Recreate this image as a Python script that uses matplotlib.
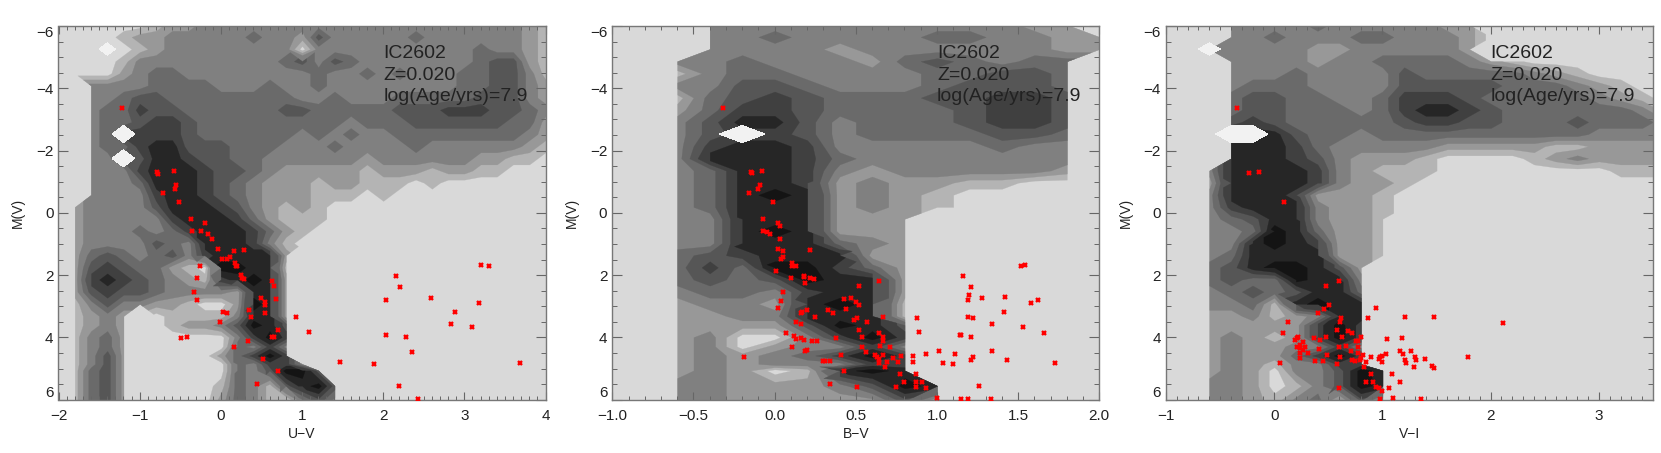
import numpy as np
import matplotlib
matplotlib.use("Agg")
import matplotlib.pyplot as plt
from matplotlib.ticker import MultipleLocator

plt.rcParams["font.family"] = ["Liberation Sans", "DejaVu Sans"]

# ------------------------------------------------------------
# density maps
# each digit is a grey band, '.' no data, 'w'/'v' big and small white holes
# ------------------------------------------------------------
MAG_GRID = [-6.04, -5.65, -5.26, -4.87, -4.48, -4.09, -3.70, -3.31, -2.92, -2.53, -2.14,
            -1.75, -1.36, -0.97, -0.58, -0.19, 0.19, 0.58, 0.97, 1.36, 1.75, 2.14, 2.53,
            2.92, 3.31, 3.60, 3.99, 4.29, 4.58, 4.85, 5.06, 5.55, 6.04]

UV_GRID = [-2.0 + 0.2 * i for i in range(31)]
BV_GRID = [-1.0 + 0.2 * i for i in range(16)]
VI_GRID = [-1.0 + 0.2 * i for i in range(24)]

UV_ROWS = [
    "00000 01223 33333 33333 33333 33332 1",
    "00001 22333 33433 25333 33433 33332 1",
    "000v0 12333 33333 03333 33333 34332 1",
    "00001 33333 33334 53543 33333 34552 1",
    "00002 34433 33333 34334 34333 44553 1",
    "..333 34444 33343 34333 33333 44553 2",
    "..334 55444 44444 33433 34444 45553 2",
    "..344 65544 44445 54444 45556 66554 3",
    "..344 56654 44444 44434 44555 55544 2",
    "..34w 66654 44444 34343 34444 44443 2",
    "..344 67755 54443 33433 33433 33332 1",
    "..33w 57765 54433 33332 33333 32211 0",
    "..333 67776 55432 22221 22212 21100 0",
    "..333 47776 54322 21221 11010 00000 0",
    "..333 36776 54322 21110 10000 00000 0",
    ".2333 35777 65321 21000 00000 00000 0",
    ".2333 33677 76421 11000 00000 00000 0",
    ".2333 43467 77642 10000 00000 00000 0",
    ".2333 35437 77631 00000 00000 00000 0",
    ".2454 34536 77772 .....",
    ".2565 44210 88771 .....",
    ".2676 54321 67872 .....",
    ".2565 54333 32772 .....",
    ".1353 32210 02872 .....",
    ".1232 .0111 13772 .....",
    ".1232 .0122 35875 .....",
    ".1342 .0000 03686 .....",
    ".1342 .0000 04363 .....",
    ".1352 .0000 24686 .....",
    ".1352 .0000 04366 3....",
    ".1452 .0000 04358 85...",
    ".1452 .0000 14315 785..",
    ".1452 .0000 24310 353..",
]

BV_ROWS = [
    "...3333333333 22.",
    "...3343333443322.",
    "...3333233333322.",
    "..3343332454344.",
    "..1344333344554.",
    "..3355433345554.",
    "..1456544455665.",
    "..2466544445665.",
    "..3577534445665.",
    "..35w6534444554.",
    "..3677633333433.",
    "..3777643333333.",
    "..3477632333332.",
    "..3477623221100.",
    "..3478723210000.",
    "..3477723210000.",
    "..33777222......",
    "..33787222......",
    "..33777432......",
    "..45677722......",
    "..46488642......",
    "..45458772......",
    "..34436772......",
    "..23327871......",
    "..22337771......",
    "..22225875......",
    "..23003686......",
    "..23023363......",
    "..23234686......",
    "..23233366......",
    "..23201787......",
    "..332223587.....",
    "..332222251.....",
]

VI_ROWS = [
    "...33 33433 33322 ..... ....",
    "...33 43334 43332 0.... ....",
    "..v33 33223 33332 ..... ....",
    "...33 33233 44443 21000 0000",
    "...33 34333 35444 44321 0000",
    "...34 44333 35555 54443 2100",
    "...45 54433 46665 44444 3210",
    "...45 54443 46776 54444 4431",
    "...56 54444 45665 54445 4443",
    "...ww 75443 44444 44444 3333",
    "...77 76433 33322 22211 2222",
    "...77 76532 22100 00123 2222",
    "..377 77632 11100 00000 0111",
    "..277 77632 21000 00000 0000",
    "..377 76222 10000 00000 0000",
    "..367 77322 10000 00000 0000",
    "..345 77322 1.... ..... ....",
    "..334 87422 1.... ..... ....",
    "..337 87622 1.... ..... ....",
    "..347 77722 1.... ..... ....",
    "..457 88752 ..... ..... ....",
    "..454 48773 ..... ..... ....",
    "..345 45774 ..... ..... ....",
    "..334 17877 ..... ..... ....",
    "..223 12377 ..... ..... ....",
    "..222 22686 ..... ..... ....",
    "..232 12686 ..... ..... ....",
    "..232 23363 ..... ..... ....",
    "..232 24686 ..... ..... ....",
    "..232 13366 ..... ..... ....",
    "..232 03358 7.... ..... ....",
    "..332 01358 7.... ..... ....",
    "..332 13415 1.... ..... ....",
]

# ------------------------------------------------------------
# stars
# ------------------------------------------------------------
UV_X = [-1.22, -0.79, -0.78, -0.58, -0.55, -0.56, -0.71, -0.52, -0.37, -0.19, -0.36, -0.25, -0.16,
        -0.11, -0.04, 0.16, 0.29, 0.01, 0.08, 0.11, 0.18, 0.19, 0.2, -0.26, -0.29, 0.25, 0.26, 0.29,
        0.63, 0.66, -0.33, -0.29, 0.49, 0.68, 0.55, 0.54, 0.03, 0.07, 0.35, 0.54, 0.37, 0.93, -0.01,
        0.71, 1.09, -0.49, -0.42, 0.63, 0.65, 0.33, 0.16, 0.52, 0.71, 0.44, 1.47, 1.89, 2.20, 2.43,
        3.68, 2.36, 2.28, 2.04, 2.83, 3.09, 2.88, 3.18, 2.59, 2.04, 2.21, 2.16, 3.20, 3.30]
UV_M = [-3.36, -1.30, -1.26, -1.33, -0.90, -0.78, -0.63, -0.36, 0.19, 0.33, 0.58, 0.58, 0.69,
        0.84, 1.15, 1.21, 1.18, 1.47, 1.47, 1.42, 1.62, 1.70, 1.70, 1.72, 2.10, 2.00, 2.09, 2.12,
        2.20, 2.36, 2.55, 2.81, 2.74, 2.78, 2.85, 2.95, 3.18, 3.23, 3.13, 3.21, 3.33, 3.33, 3.49,
        3.75, 3.82, 4.01, 3.98, 3.99, 3.99, 4.13, 4.31, 4.68, 5.09, 5.50, 4.80, 4.86, 5.56, 5.98,
        4.83, 4.46, 3.98, 3.93, 3.57, 3.65, 3.18, 2.91, 2.74, 2.81, 2.37, 2.04, 1.67, 1.72]

BV_X = [-0.32, -0.146, -0.14, -0.08, -0.09, -0.10, -0.16, -0.01, -0.07, 0.02, 0.03, -0.07, -0.05,
        -0.03, 0.03, 0.02, 0.05, 0.22, 0.05, 0.04, 0.11, 0.11, 0.13, 0.01, 0.10, 0.18, 0.18, 0.22,
        0.24, 0.19, 0.64, 0.52, 0.05, 0.04, 0.02, 0.43, 0.47, 0.50, 0.52, 0.44, 0.20, 0.17, 0.16,
        0.33, 0.36, 0.25, 0.67, 0.51, 0.49, 0.13, 0.16, 0.57, 0.52, 0.07, 0.64, 0.54, 0.12, 0.13,
        0.16, 0.18, 0.23, 0.26, 0.38, 0.67, 0.67, 0.65, 0.71, 0.54, 0.11, 0.20, 0.19, 0.56, 0.41,
        -0.19, 0.62, 0.67, 0.64, 0.63, 0.73, 0.78, 0.85, 0.30, 0.31, 0.34, 0.64, 0.69, 0.76, 0.85,
        0.68, 0.43, 0.87, 0.77, 0.80, 0.87, 0.91, 0.34, 0.75, 0.87, 0.93, 0.51, 1.00, 1.15, 1.19,
        1.33, 1.73, 1.43, 1.34, 1.22, 1.21, 1.11, 1.01, 0.93, 1.04, 1.10, 1.66, 1.53, 1.34, 1.22,
        1.19, 1.41, 1.58, 1.62, 1.42, 1.28, 1.19, 1.20, 1.21, 1.16, 1.52, 1.54, 0.88, 0.89, 1.14,
        1.15, 1.21, 1.26]
BV_M = [-3.37, -1.30, -1.29, -1.33, -0.90, -0.78, -0.63, -0.36, 0.19, 0.33, 0.41, 0.58, 0.60,
        0.69, 0.85, 1.15, 1.21, 1.18, 1.42, 1.48, 1.62, 1.72, 1.71, 1.88, 2.10, 2.02, 2.06, 2.10,
        2.13, 2.26, 2.20, 2.36, 2.55, 2.82, 3.04, 2.78, 2.73, 2.85, 2.95, 3.08, 3.12, 3.18, 3.23,
        3.13, 3.21, 3.33, 3.33, 3.37, 3.44, 3.49, 3.56, 3.49, 3.75, 3.87, 3.86, 3.98, 3.97, 4.04,
        4.01, 4.09, 4.10, 4.13, 4.01, 3.99, 4.12, 4.29, 4.31, 4.30, 4.31, 4.41, 4.45, 4.48, 4.58,
        4.62, 4.58, 4.58, 4.69, 4.63, 4.66, 4.61, 4.61, 4.77, 4.77, 4.77, 4.82, 4.79, 4.80, 4.79,
        4.94, 5.09, 5.19, 5.19, 5.43, 5.43, 5.43, 5.50, 5.58, 5.58, 5.61, 5.60, 5.94, 5.98, 5.98,
        5.98, 4.83, 4.72, 4.45, 4.62, 4.71, 4.54, 4.44, 4.54, 4.83, 4.86, 3.87, 3.65, 3.56, 3.37,
        3.35, 3.18, 2.91, 2.79, 2.69, 2.74, 2.81, 2.64, 2.37, 2.04, 1.72, 1.67, 3.38, 3.82, 3.93,
        3.93, 3.98, 5.56]

VI_X = [-0.34, -0.23, -0.14, 0.09, 0.60, 0.48, 0.51, 0.46, 0.40, 0.94, 0.62, 0.61, 0.87, 1.21,
        1.48, 2.11, 0.13, 0.08, 0.58, 0.68, 0.72, 0.80, 0.77, 0.76, 1.04, 1.18, 0.63, 0.48, 0.37,
        0.42, 0.22, 0.19, 0.21, 0.27, 0.21, 0.24, 0.28, 0.24, 0.27, 0.31, 0.24, 0.235, 0.41, 0.60,
        0.66, 0.77, 0.71, 0.77, 0.49, 0.61, 0.82, 0.80, 0.72, 0.75, 0.79, 0.89, 0.98, 1.00, 1.03,
        0.97, 1.00, 0.85, 0.83, 0.38, 0.45, 0.58, 0.05, 1.16, 1.19, 1.26, 1.30, 1.31, 1.21, 1.22,
        1.29, 1.39, 1.46, 1.48, 1.79, 1.09, 0.89, 1.16, 0.85, 0.91, 0.94, 0.97, 1.00, 1.06, 0.60,
        1.10, 1.36, 0.98]
VI_M = [-3.37, -1.29, -1.31, -0.36, 2.20, 2.36, 2.95, 3.08, 3.21, 3.04, 3.37, 3.49, 3.38, 3.35,
        3.33, 3.54, 3.49, 3.87, 3.75, 3.81, 3.86, 3.99, 4.12, 4.13, 4.05, 4.03, 3.98, 3.99, 4.01,
        4.09, 3.99, 4.08, 4.03, 4.14, 4.31, 4.24, 4.30, 4.35, 4.40, 4.51, 4.51, 4.66, 4.36, 4.30,
        4.29, 4.32, 4.45, 4.51, 4.58, 4.62, 4.58, 4.67, 4.72, 4.77, 4.73, 4.64, 4.62, 4.60, 4.54,
        4.69, 4.79, 4.79, 4.94, 4.77, 4.76, 4.84, 4.82, 4.44, 4.53, 4.45, 4.62, 4.71, 4.72, 4.82,
        4.94, 4.69, 4.91, 4.99, 4.62, 5.19, 5.19, 5.43, 5.43, 5.43, 5.58, 5.61, 5.73, 5.62, 5.61,
        5.95, 5.98, 5.99]

CAPTION = ["IC2602", "Z=0.020", "log(Age/yrs)=7.9"]

# ------------------------------------------------------------
# styles and layout
# ------------------------------------------------------------
BACKGROUND = "#d9d9d9"
HOLE_COLOR = "#f2f2f2"
BAND_COLORS = ["#b4b4b4", "#989898", "#808080", "#6a6a6a",
               "#565656", "#404040", "#262626", "#141414"]
MAX_DROP = 3  # a step of more than this many bands gives a hard edge

WIDTH, HEIGHT = 1661, 453
PANEL_LEFT = [58.5, 612.3, 1166.0]
PANEL_WIDTH = 487
PANEL_TOP = 26
PANEL_BOTTOM = 399.7

PANELS = [
    ("U\u2212V", UV_GRID, UV_ROWS, UV_X, UV_M, (-2, 4), [-2, -1, 0, 1, 2, 3, 4], 2.0, "{:d}"),
    ("B\u2212V", BV_GRID, BV_ROWS, BV_X, BV_M, (-1, 2), [-1.0, -0.5, 0.0, 0.5, 1.0, 1.5, 2.0], 1.0, "{:.1f}"),
    ("V\u2212I", VI_GRID, VI_ROWS, VI_X, VI_M, (-1, 3.5), [-1, 0, 1, 2, 3], 2.0, "{:d}"),
]


def parse_rows(rows, width):
    """Digit rows to an array, and a second array that only marks the holes"""
    bands = np.full((len(rows), width), np.nan)
    holes = np.zeros((len(rows), width))
    for r, row in enumerate(rows):
        row = row.replace(" ", "").ljust(width, ".")[:width]
        for c, ch in enumerate(row):
            if ch == "w":
                holes[r, c] = 1
            elif ch == "v":
                holes[r, c] = 0.6
            elif ch != ".":
                bands[r, c] = int(ch)
        # a hole takes the band of the next cell, the white goes on top later
        for c, ch in enumerate(row):
            if ch in "wv":
                next_cells = [b for b in row[c + 1:] if b.isdigit()]
                bands[r, c] = int(next_cells[0]) if next_cells else 0
    return bands, holes


def draw_bands(ax, grid, rows):
    bands, holes = parse_rows(rows, len(grid))

    # paint band by band, cells far below a band are masked so it ends sharply
    for level, color in enumerate(BAND_COLORS, start=1):
        z = np.ma.masked_where(~(bands >= level - MAX_DROP), bands)
        cs = ax.contourf(grid, MAG_GRID, z, levels=[level - 0.5, 99], colors=[color])
        cs.set_edgecolor("face")
        cs.set_linewidth(0.2)

    ax.contourf(grid, MAG_GRID, holes, levels=[0.3, 2], colors=[HOLE_COLOR])


def draw_panel(fig, left, label, grid, rows, star_x, star_m, xlim, xticks, text_x, fmt):
    ax = fig.add_axes([left / WIDTH, 1 - PANEL_BOTTOM / HEIGHT,
                       PANEL_WIDTH / WIDTH, (PANEL_BOTTOM - PANEL_TOP) / HEIGHT])
    ax.set_facecolor(BACKGROUND)

    draw_bands(ax, grid, rows)

    ax.plot(star_x, star_m, "x", color="#ff0000", ms=3.5, mew=1.7, zorder=5)

    ax.set_xlim(*xlim)
    ax.set_ylim(6, -6)
    ax.set_xticks(xticks)
    ax.set_xticklabels([fmt.format(t).replace("-", "\u2212") for t in xticks])
    ax.set_yticks([-6, -4, -2, 0, 2, 4, 6])
    ax.xaxis.set_minor_locator(MultipleLocator(0.1))
    ax.yaxis.set_minor_locator(MultipleLocator(0.5))

    ax.tick_params(axis="x", which="major", direction="in", top=True, length=5.8, width=0.8,
                   color="#666666", labelsize=11, labelcolor="#222222", pad=7)
    ax.tick_params(axis="x", which="minor", direction="in", top=True, length=2.6, width=0.7,
                   color="#666666")
    ax.tick_params(axis="y", which="major", direction="in", right=True, length=7.2, width=0.8,
                   color="#666666", labelsize=11, labelcolor="#222222", pad=3.6)
    ax.tick_params(axis="y", which="minor", direction="in", right=True, length=3.6, width=0.7,
                   color="#666666")
    for spine in ax.spines.values():
        spine.set_color("#777777")
        spine.set_linewidth(1.0)

    # the end labels sit inside the axis range
    ylabels = ax.get_yticklabels()
    ylabels[0].set_va("top")
    ylabels[-1].set_va("bottom")

    ax.set_xlabel(label, fontsize=10, color="#222222")
    ax.set_ylabel("M(V)", fontsize=10, color="#222222")
    ax.xaxis.set_label_coords(0.5, -0.073)
    ax.yaxis.set_label_coords(-0.069, 0.5)

    for line, mag in zip(CAPTION, [-4.98, -4.28, -3.59]):
        ax.text(text_x, mag, line, fontsize=14, color="#222222", va="baseline", zorder=6)


def main():
    fig = plt.figure(figsize=(WIDTH / 100, HEIGHT / 100), dpi=100)
    for left, (label, grid, rows, star_x, star_m, xlim, xticks, text_x, fmt) in zip(PANEL_LEFT, PANELS):
        draw_panel(fig, left, label, grid, rows, star_x, star_m, xlim, xticks, text_x, fmt)
    fig.savefig("out.png", dpi=100)


if __name__ == "__main__":
    main()
